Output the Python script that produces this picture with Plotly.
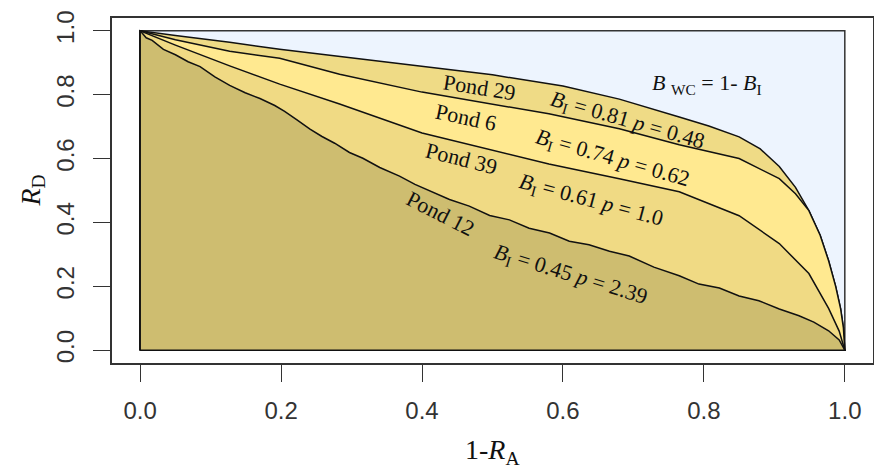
import plotly.graph_objects as go

# ---------------- data ----------------
x_tick_vals = [0.0, 0.2, 0.4, 0.6, 0.8, 1.0]
x_tick_labels = ["0.0", "0.2", "0.4", "0.6", "0.8", "1.0"]
y_tick_vals = [0.0, 0.2, 0.4, 0.6, 0.8, 1.0]
y_tick_labels = ["0.0", "0.2", "0.4", "0.6", "0.8", "1.0"]

pond_names = ["Pond 29", "Pond 6", "Pond 39", "Pond 12"]
b_index = ["0.81", "0.74", "0.61", "0.45"]
p_values = ["0.48", "0.62", "1.0", "2.39"]

pond29_x = [0.0, 0.05, 0.127, 0.198, 0.283, 0.4, 0.5, 0.6, 0.68, 0.765, 0.807, 0.85,
            0.88, 0.907, 0.93, 0.949, 0.965, 0.977, 0.987, 0.994, 0.998, 1.0]
pond29_y = [1.0, 0.985, 0.964, 0.942, 0.92, 0.888, 0.862, 0.827, 0.786, 0.73, 0.702, 0.668,
            0.63, 0.575, 0.51, 0.437, 0.36, 0.28, 0.2, 0.13, 0.07, 0.0]

pond6_x = [0.0, 0.05, 0.127, 0.198, 0.283, 0.4, 0.5, 0.58, 0.68, 0.765, 0.85,
           0.907, 0.93, 0.949, 0.965, 0.977, 0.987, 0.994, 0.998, 1.0]
pond6_y = [1.0, 0.972, 0.936, 0.914, 0.864, 0.808, 0.77, 0.74, 0.693, 0.643, 0.6,
           0.537, 0.49, 0.437, 0.36, 0.28, 0.2, 0.13, 0.07, 0.0]

pond39_x = [0.0, 0.05, 0.127, 0.198, 0.283, 0.4, 0.5, 0.58, 0.68, 0.765, 0.85,
            0.907, 0.949, 0.977, 0.992, 1.0]
pond39_y = [1.0, 0.955, 0.89, 0.833, 0.771, 0.68, 0.625, 0.583, 0.537, 0.496, 0.421,
            0.334, 0.24, 0.131, 0.06, 0.0]

pond12_x = [0.0, 0.0085, 0.017, 0.033, 0.05, 0.068, 0.085, 0.106, 0.127, 0.149, 0.17,
            0.191, 0.205, 0.222, 0.241, 0.258, 0.276, 0.297, 0.316, 0.34, 0.368, 0.39,
            0.411, 0.439, 0.467, 0.496, 0.524, 0.552, 0.581, 0.609, 0.637, 0.666, 0.694,
            0.729, 0.765, 0.793, 0.822, 0.85, 0.878, 0.907, 0.935, 0.956, 0.977, 0.992, 1.0]
pond12_y = [1.0, 0.978, 0.970, 0.942, 0.925, 0.903, 0.888, 0.856, 0.829, 0.806, 0.788,
            0.766, 0.748, 0.722, 0.692, 0.669, 0.648, 0.619, 0.601, 0.572, 0.545, 0.519,
            0.498, 0.472, 0.451, 0.422, 0.408, 0.382, 0.367, 0.341, 0.330, 0.310, 0.295,
            0.260, 0.233, 0.207, 0.195, 0.170, 0.155, 0.129, 0.108, 0.088, 0.061, 0.032, 0.0]

# ---------------- styles ----------------
fill_colors = ["#EFDB86", "#FFE990", "#F0DA84", "#CEBD70"]
blue_bg = "#EDF4FE"
serif = "Liberation Serif, Times New Roman, serif"
sans = "Liberation Sans, Arial, sans-serif"

curves = [(pond29_x, pond29_y), (pond6_x, pond6_y), (pond39_x, pond39_y), (pond12_x, pond12_y)]

fig = go.Figure()
for (cx, cy), col, name in zip(curves, fill_colors, pond_names):
    fig.add_trace(go.Scatter(
        x=[0.0] + cx + [0.0], y=[0.0] + cy + [0.0],
        mode="lines", fill="toself", fillcolor=col,
        line=dict(color="#111111", width=1.5),
        name=name, showlegend=False, hoverinfo="skip"))

# light-blue unit square behind the ponds
fig.add_shape(type="rect", x0=0, x1=1, y0=0, y1=1, xref="x", yref="y",
              fillcolor=blue_bg, line=dict(color="#333333", width=1.5), layer="below")

# labels placed along the curves
name_pos = [(0.482, 0.821, 9), (0.463, 0.727, 12), (0.456, 0.599, 14), (0.426, 0.427, 27)]
stat_pos = [(0.691, 0.718, 16), (0.671, 0.599, 16), (0.640, 0.468, 15), (0.610, 0.234, 17)]
for name, (x, y, a) in zip(pond_names, name_pos):
    fig.add_annotation(x=x, y=y, text=name, showarrow=False, textangle=a,
                       font=dict(family=serif, size=22, color="#111"))
for b, p, (x, y, a) in zip(b_index, p_values, stat_pos):
    fig.add_annotation(x=x, y=y, text=f"<i>B</i><sub>I</sub> = {b} <i>p</i> = {p}",
                       showarrow=False, textangle=a,
                       font=dict(family=serif, size=22, color="#111"))
fig.add_annotation(x=0.805, y=0.833, text="<i>B</i> <sub>WC</sub> = 1- <i>B</i><sub>I</sub>",
                   showarrow=False, font=dict(family=serif, size=22, color="#111"))

# axis titles
fig.add_annotation(x=0.5, y=0, xref="paper", yref="paper", yanchor="middle",
                   yshift=-88, text="1-<i>R</i><sub>A</sub>", showarrow=False,
                   font=dict(family=serif, size=28, color="#111"))
fig.add_annotation(x=0, y=0.5, xref="paper", yref="paper", xanchor="center",
                   xshift=-80, textangle=-90,
                   text="<i>R</i><sub>D</sub>", showarrow=False,
                   font=dict(family=serif, size=28, color="#111"))

axis_common = dict(showgrid=False, zeroline=False, showline=True, mirror=True,
                   linecolor="#333333", linewidth=1.5, ticks="outside", ticklen=17,
                   tickwidth=1.3, tickcolor="#333333", automargin=False,
                   tickfont=dict(family=sans, size=24, color="#333333"))

fig.update_layout(
    width=874, height=470,
    margin=dict(l=112, r=1, t=18, b=107),
    paper_bgcolor="white", plot_bgcolor="white",
    xaxis=dict(range=[-0.04, 1.04], tickvals=x_tick_vals, ticktext=x_tick_labels,
               ticklabelstandoff=8, **axis_common),
    yaxis=dict(range=[-0.04, 1.04], tickvals=y_tick_vals, ticktext=y_tick_labels,
               tickangle=-90, ticklabelstandoff=10, **axis_common),
)

fig.write_html("out.html", config={"displayModeBar": False},
               post_script="document.body.style.margin='0px';document.body.style.overflow='hidden';")
